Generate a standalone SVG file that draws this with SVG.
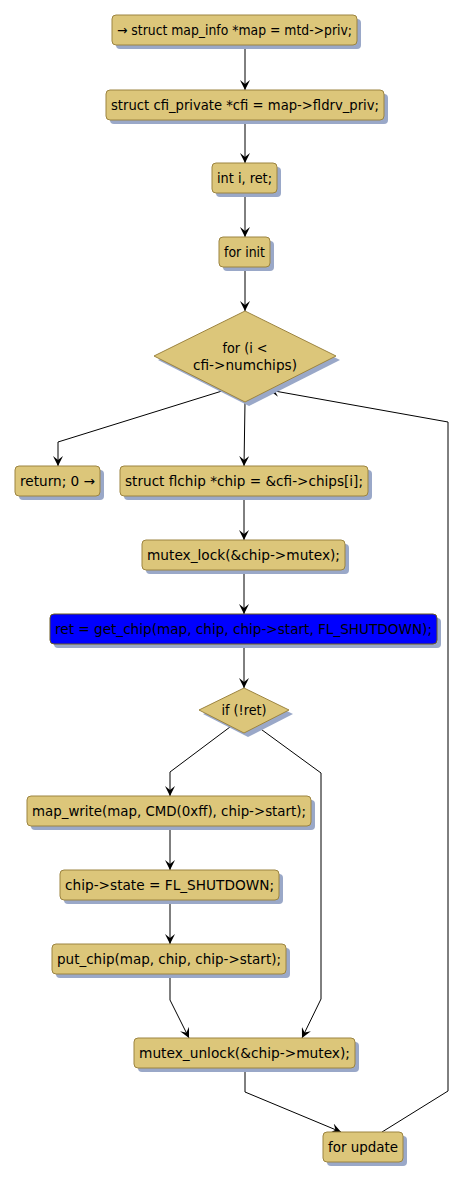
<svg xmlns="http://www.w3.org/2000/svg" width="463" height="1181" viewBox="0 0 463 1181">
<style>
.n{fill:#dcc67a;stroke:#9c8440;stroke-width:1}
.b{fill:#0000ff;stroke:#6a5a20;stroke-width:1}
.s{fill:#9aa8c8}
.t{font-family:"DejaVu Sans",sans-serif;font-size:13.5px;fill:#000;text-anchor:middle}
.c{fill:none;stroke:#000;stroke-width:1}
</style>
<defs>
<marker id="a" viewBox="0 0 10 10" refX="10" refY="5" markerWidth="10" markerHeight="10" markerUnits="userSpaceOnUse" orient="auto">
<path d="M0,0 L10,5 L0,10 L4,5 Z" fill="#000"/>
</marker>
</defs>
<g id="connectors">
<path class="c" d="M245,45 V90" marker-end="url(#a)"/>
<path class="c" d="M245,120 V163" marker-end="url(#a)"/>
<path class="c" d="M245,193 V237" marker-end="url(#a)"/>
<path class="c" d="M245,267 V311" marker-end="url(#a)"/>
<path class="c" d="M222,391 L58,442 V466" marker-end="url(#a)"/>
<path class="c" d="M245,402 L244,466" marker-end="url(#a)"/>
<path class="c" d="M244,496 V540" marker-end="url(#a)"/>
<path class="c" d="M244,570 V614" marker-end="url(#a)"/>
<path class="c" d="M244,645 V688" marker-end="url(#a)"/>
<path class="c" d="M230,727 L170,772 V796" marker-end="url(#a)"/>
<path class="c" d="M258,727 L321,773 V999 L302,1038" marker-end="url(#a)"/>
<path class="c" d="M170,826 V870" marker-end="url(#a)"/>
<path class="c" d="M170,900 V944" marker-end="url(#a)"/>
<path class="c" d="M170,974 V1000 L189,1038" marker-end="url(#a)"/>
<path class="c" d="M245,1068 V1092 L341,1132" marker-end="url(#a)"/>
<path class="c" d="M382,1132 L448,1091 V422 L269,390" marker-end="url(#a)"/>
</g>
<g id="n1"><rect class="s" x="116" y="19" width="245" height="30" rx="4"/><rect class="n" x="112" y="15" width="245" height="30" rx="4"/><text class="t" x="234.5" y="35" textLength="235" lengthAdjust="spacingAndGlyphs">→ struct map_info *map = mtd-&gt;priv;</text></g>
<g id="n2"><rect class="s" x="110" y="94" width="278" height="30" rx="4"/><rect class="n" x="106" y="90" width="278" height="30" rx="4"/><text class="t" x="245" y="110" textLength="268" lengthAdjust="spacingAndGlyphs">struct cfi_private *cfi = map-&gt;fldrv_priv;</text></g>
<g id="n3"><rect class="s" x="216" y="167" width="65" height="30" rx="4"/><rect class="n" x="212" y="163" width="65" height="30" rx="4"/><text class="t" x="244.5" y="183" textLength="55" lengthAdjust="spacingAndGlyphs">int i, ret;</text></g>
<g id="n4"><rect class="s" x="223" y="241" width="51" height="30" rx="4"/><rect class="n" x="219" y="237" width="51" height="30" rx="4"/><text class="t" x="244.5" y="257" textLength="41" lengthAdjust="spacingAndGlyphs">for init</text></g>
<g id="d1"><polygon class="s" points="249,315 340,360 249,406 158,360"/><polygon class="n" points="245,311 336,356 245,402 154,356"/><text class="t" x="245" y="353" textLength="45" lengthAdjust="spacingAndGlyphs">for (i &lt;</text><text class="t" x="245" y="370" textLength="104" lengthAdjust="spacingAndGlyphs">cfi-&gt;numchips)</text></g>
<g id="n5"><rect class="s" x="19" y="470" width="85" height="30" rx="4"/><rect class="n" x="15" y="466" width="85" height="30" rx="4"/><text class="t" x="57.5" y="486" textLength="75" lengthAdjust="spacingAndGlyphs">return; 0 →</text></g>
<g id="n6"><rect class="s" x="124" y="470" width="248" height="30" rx="4"/><rect class="n" x="120" y="466" width="248" height="30" rx="4"/><text class="t" x="244" y="486" textLength="238" lengthAdjust="spacingAndGlyphs">struct flchip *chip = &amp;cfi-&gt;chips[i];</text></g>
<g id="n7"><rect class="s" x="146" y="544" width="203" height="30" rx="4"/><rect class="n" x="142" y="540" width="203" height="30" rx="4"/><text class="t" x="243.5" y="560" textLength="193" lengthAdjust="spacingAndGlyphs">mutex_lock(&amp;chip-&gt;mutex);</text></g>
<g id="n8"><rect class="s" x="54" y="618" width="387" height="30" rx="4"/><rect class="b" x="50" y="614" width="387" height="30" rx="4"/><text class="t" x="243.5" y="634" textLength="377" lengthAdjust="spacingAndGlyphs">ret = get_chip(map, chip, chip-&gt;start, FL_SHUTDOWN);</text></g>
<g id="d2"><polygon class="s" points="248,692 293,714 248,737 203,714"/><polygon class="n" points="244,688 289,710 244,733 199,710"/><text class="t" x="244" y="715" textLength="45" lengthAdjust="spacingAndGlyphs">if (!ret)</text></g>
<g id="n9"><rect class="s" x="31" y="800" width="284" height="30" rx="4"/><rect class="n" x="27" y="796" width="284" height="30" rx="4"/><text class="t" x="169" y="816" textLength="274" lengthAdjust="spacingAndGlyphs">map_write(map, CMD(0xff), chip-&gt;start);</text></g>
<g id="n10"><rect class="s" x="64" y="874" width="219" height="30" rx="4"/><rect class="n" x="60" y="870" width="219" height="30" rx="4"/><text class="t" x="169.5" y="890" textLength="209" lengthAdjust="spacingAndGlyphs">chip-&gt;state = FL_SHUTDOWN;</text></g>
<g id="n11"><rect class="s" x="56" y="948" width="234" height="30" rx="4"/><rect class="n" x="52" y="944" width="234" height="30" rx="4"/><text class="t" x="169" y="964" textLength="224" lengthAdjust="spacingAndGlyphs">put_chip(map, chip, chip-&gt;start);</text></g>
<g id="n12"><rect class="s" x="138" y="1042" width="221" height="30" rx="4"/><rect class="n" x="134" y="1038" width="221" height="30" rx="4"/><text class="t" x="244.5" y="1058" textLength="211" lengthAdjust="spacingAndGlyphs">mutex_unlock(&amp;chip-&gt;mutex);</text></g>
<g id="n13"><rect class="s" x="327" y="1136" width="80" height="30" rx="4"/><rect class="n" x="323" y="1132" width="80" height="30" rx="4"/><text class="t" x="363" y="1152" textLength="70" lengthAdjust="spacingAndGlyphs">for update</text></g>
</svg>
